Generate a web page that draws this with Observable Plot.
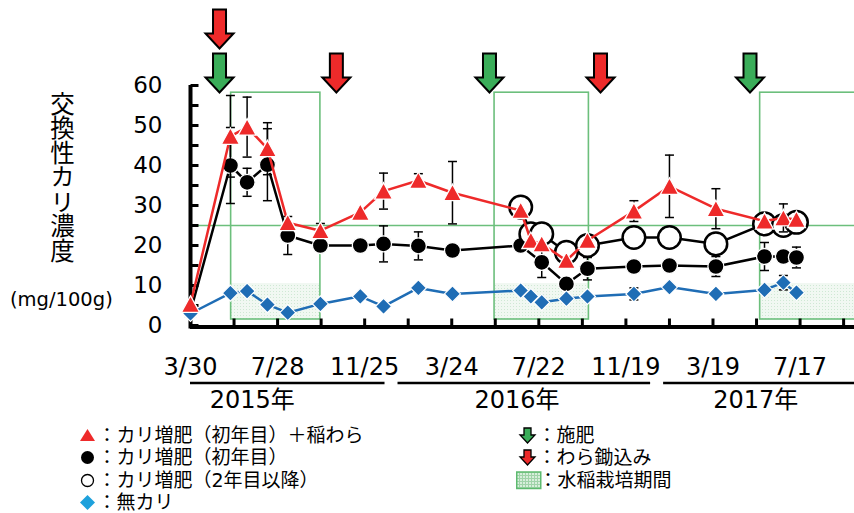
<!DOCTYPE html>
<html>
<head>
<meta charset="utf-8">
<script src="https://cdn.jsdelivr.net/npm/d3@7"></script>
<script src="https://cdn.jsdelivr.net/npm/@observablehq/plot@0.6"></script>
<style>
  body { margin: 0; background: #fff; }
  #wrap { position: relative; width: 854px; height: 513px; overflow: hidden;
          font-family: "DejaVu Sans", "Noto Sans CJK JP", sans-serif; color: #000; }
  #chart { position: absolute; left: 0; top: 0; }
  .ylab { position: absolute; left: 50px; top: 91px; writing-mode: vertical-rl; text-orientation: upright;
          font-family: "Noto Sans CJK JP", sans-serif; font-size: 24.5px; line-height: 25px; }
  .yunit { position: absolute; left: 10px; top: 288px; font-size: 19.5px; line-height: 24px; }
  .legend { position: absolute; font-family: "DejaVu Sans", "Noto Sans CJK JP", sans-serif; font-size: 19px; line-height: 22.5px; }
  .legend div { white-space: nowrap; height: 22.5px; display: flex; align-items: center; }
  .legend .ic { display: inline-block; width: 19.5px; height: 22.5px; position: relative; }
  .legend .ic svg { position: absolute; left: 0; top: 0; }
</style>
</head>
<body>
<div id="wrap">
  <div id="chart"></div>
  <div class="ylab">交換性カリ濃度</div>
  <div class="yunit">(mg/100g)</div>
  <div class="legend" style="left:78px; top:423.5px;">
    <div><span class="ic"><svg width="20" height="23"><path d="M9.5,5 L17,17 L2,17 Z" fill="#ee2a2a"/></svg></span>：カリ増肥（初年目）＋稲わら</div>
    <div><span class="ic"><svg width="20" height="23"><circle cx="9.5" cy="11.5" r="6.5" fill="#000"/></svg></span>：カリ増肥（初年目）</div>
    <div><span class="ic"><svg width="20" height="23"><circle cx="9.5" cy="11.5" r="6" fill="#fff" stroke="#000" stroke-width="1.3"/></svg></span>：カリ増肥（2年目以降）</div>
    <div><span class="ic"><svg width="20" height="23"><path d="M9.5,4 L17,11.5 L9.5,19 L2,11.5 Z" fill="#1ea1dc"/></svg></span>：無カリ</div>
  </div>
  <div class="legend" style="left:518px; top:423.5px;">
    <div><span class="ic"><svg width="22" height="23"><path d="M6,4 L13,4 L13,11 L17,11 L9.5,19 L2,11 L6,11 Z" fill="#3aad59" stroke="#000" stroke-width="1.3"/></svg></span>：施肥</div>
    <div><span class="ic"><svg width="22" height="23"><path d="M6,4 L13,4 L13,11 L17,11 L9.5,19 L2,11 L6,11 Z" fill="#ee2a2a" stroke="#000" stroke-width="1.3"/></svg></span>：わら鋤込み</div>
    <div><span class="ic" style="width:20.5px"><svg width="26" height="23" style="left:-2px">
      <defs><pattern id="lgGrid" width="3" height="3" patternUnits="userSpaceOnUse">
        <rect width="3" height="3" fill="#d6eedb"/><path d="M0,0.5 H3 M0.5,0 V3" stroke="#9fd3a9" stroke-width="1"/></pattern></defs>
      <rect x="0.75" y="3" width="24" height="16.5" fill="url(#lgGrid)" stroke="#5dba6f" stroke-width="1.5"/></svg></span>：水稲栽培期間</div>
  </div>
</div>
<script>
// ---------- data ----------
const sampleDates = ["2015-03-30","2015-05-24","2015-06-16","2015-07-14","2015-08-11","2015-09-25",
  "2015-11-19","2015-12-21","2016-02-07","2016-03-25","2016-06-27","2016-07-11","2016-07-26",
  "2016-08-29","2016-09-27","2016-11-30","2017-01-18","2017-03-23","2017-05-29","2017-06-24","2017-07-12"];
// カリ増肥（初年目）＋稲わら
const kStraw   = [5.3,47.3,49.6,44.2,25.7,23.7,28.3,33.6,36.25,33.2,28.75,21.25,20.4,16.25,21.25,28.6,34.8,29.2,26.1,26.9,26.5];
const kStrawSD = [0,10.2,7.5,6.5,0,1.8,0,4.5,1.7,7.8,0,0,0,0,0,2.6,7.8,5,0,3.5,0];
// カリ増肥（初年目）
const kFirst   = [3.5,40,35.8,40.2,22.5,20,20,20.4,19.9,18.75,20,null,15.8,10.4,14.2,14.75,15,14.75,17.25,17.25,17];
const kFirstSD = [0,9.5,3.5,9,4.75,0,0,4.5,3.5,0,0,null,3.8,0,2.8,0,0,2.5,3.5,0,2.6];
// カリ増肥（2年目以降）
const kLater   = [null,null,null,null,null,null,null,null,null,null,29.6,22.9,22.9,18.3,20,22,22,20.4,25.4,25,25.8];
// 無カリ
const noK      = [3,8.1,8.6,5.2,3.2,5.4,7.3,4.8,9.4,7.9,8.75,7.25,5.8,6.7,7.25,7.9,9.6,7.9,8.9,10.7,8.2];
const noKSD    = [0,0,0,0,0,0,0,0,0,0,0,0,0,0,0,1.5,0,0,0,1.8,0];

const fertilizerDates = ["2015-05-09","2016-05-15","2017-05-09"];   // 施肥
const strawDates      = ["2015-05-09","2015-10-17","2016-10-15"];   // わら鋤込み
const riceStart = ["2015-05-25","2016-05-22","2017-05-23"];           // 水稲栽培期間
const riceEnd   = ["2015-09-25","2016-09-29","2017-10-15"];
const referenceLevel = [25];

const axisStart = "2015-03-30", axisEnd = "2017-09-30";
const tickDates  = ["2015-03-30","2015-07-28","2015-11-25","2016-03-24","2016-07-22","2016-11-19","2017-03-19","2017-07-17"];
const tickLabels = ["3/30","7/28","11/25","3/24","7/22","11/19","3/19","7/17"];
const yTickLabels = [0,10,20,30,40,50,60];
const years = ["2015年","2016年","2017年"];
const yearLabelDates = ["2015-06-23","2016-06-22","2017-05-17"];
const yearSpanStart = ["2015-03-30","2016-01-01","2017-01-01"];
const yearSpanEnd   = ["2016-01-01","2017-01-01","2017-09-30"];

// ---------- build ----------
const parse = d3.utcParse("%Y-%m-%d");
const rows = (vals, errs) => sampleDates.map((d, i) => ({date: parse(d), v: vals[i], e: errs ? (errs[i] || 0) : 0}))
  .filter(r => r.v != null);
const redRows = rows(kStraw, kStrawSD), blackRows = rows(kFirst, kFirstSD),
      openRows = rows(kLater), blueRows = rows(noK, noKSD);
const rice = riceStart.map((s, i) => ({start: parse(s), end: parse(riceEnd[i])}));
const majorTicks = tickDates.map(parse);
const labelMap = new Map(majorTicks.map((d, i) => [+d, tickLabels[i]]));
const minorTicks = majorTicks.flatMap(d => [d, d3.utcDay.offset(d, 60)]).filter(d => d <= parse(axisEnd));
const yTicksAll = d3.range(0, 61, 5);

const RED = "#ee2a2a", BLUE = "#1f6db5", GREEN = "#3aad59", BOX = "#6cbf7c";

const hTick = {draw(c){ c.moveTo(0,0); c.lineTo(8,0); }};
const vTick = {draw(c){ c.moveTo(0,0); c.lineTo(0,-7); }};
const cap   = {draw(c){ c.moveTo(-4.5,0); c.lineTo(4.5,0); }};
const tri   = {draw(c){ c.moveTo(0,-8.5); c.lineTo(9,8); c.lineTo(-9,8); c.closePath(); }};
const dia   = {draw(c){ c.moveTo(0,-8); c.lineTo(8,0); c.lineTo(0,8); c.lineTo(-8,0); c.closePath(); }};
const arrow = {draw(c){ c.moveTo(-6.5,-39); c.lineTo(6.5,-39); c.lineTo(6.5,-15); c.lineTo(14,-15);
                        c.lineTo(0,0); c.lineTo(-14,-15); c.lineTo(-6.5,-15); c.closePath(); }};

const errMarks = (data) => {
  const d = data.filter(r => r.e > 0);
  return [
    Plot.ruleX(d, {x: "date", y1: r => r.v - r.e, y2: r => r.v + r.e, stroke: "#000", strokeWidth: 1.5}),
    Plot.dot(d.flatMap(r => [{date: r.date, y: r.v + r.e}, {date: r.date, y: r.v - r.e}]),
      {x: "date", y: "y", symbol: cap, fill: "none", stroke: "#000", strokeWidth: 1.5})
  ];
};

const strawRows = strawDates.map(s => ({date: parse(s), stacked: fertilizerDates.includes(s)}));

const chart = Plot.plot({
  width: 854, height: 415,
  marginLeft: 190, marginRight: 0, marginTop: 85, marginBottom: 90,
  x: {type: "utc", domain: [parse(axisStart), parse(axisEnd)]},
  y: {domain: [0, 60]},
  style: {fontFamily: "'DejaVu Sans','Noto Sans CJK JP',sans-serif", color: "#000", background: "#fff", overflow: "visible"},
  marks: [
    Plot.rect(rice, {x1: "start", x2: "end", y1: 1.5, y2: 10.5, fill: "url(#paddyFill)"}),
    Plot.rect(rice, {x1: "start", x2: "end", y1: 1.5, y2: 58.2, fill: "none", stroke: BOX, strokeWidth: 1.6}),
    Plot.ruleY(referenceLevel, {stroke: BOX, strokeWidth: 1.6}),
    // axes
    Plot.ruleX([parse(axisStart)], {stroke: "#000", strokeWidth: 4, insetBottom: -3.5}),
    Plot.ruleY([0], {stroke: "#000", strokeWidth: 4, dy: 1.5}),
    Plot.dot(yTicksAll, {y: d => d, frameAnchor: "left", symbol: hTick, fill: "none", stroke: "#000", strokeWidth: 3}),
    Plot.dot(minorTicks, {x: d => d, frameAnchor: "bottom", symbol: vTick, fill: "none", stroke: "#000", strokeWidth: 3}),
    Plot.axisY({ticks: yTickLabels, tickSize: 0, tickPadding: 28, fontSize: 23, label: null}),
    Plot.axisX({ticks: majorTicks, tickFormat: d => labelMap.get(+d), tickSize: 0, tickPadding: 32, fontSize: 24, label: null}),
    Plot.text(years, {x: (d, i) => parse(yearLabelDates[i]), text: d => d, frameAnchor: "bottom", lineAnchor: "middle",
      dy: 75, fontSize: 24, fontFamily: "'DejaVu Sans','Noto Sans CJK JP',sans-serif"}),
    // カリ増肥（初年目）
    Plot.line(blackRows, {x: "date", y: "v", stroke: "#000", strokeWidth: 2.5}),
    ...errMarks(blackRows),
    Plot.dot(blackRows, {x: "date", y: "v", r: 8, fill: "#000", stroke: "#fff", strokeWidth: 1.3}),
    // カリ増肥（2年目以降）
    Plot.line(openRows, {x: "date", y: "v", stroke: "#000", strokeWidth: 2.5}),
    Plot.dot(openRows, {x: "date", y: "v", r: 11.3, fill: "#fff", stroke: "#000", strokeWidth: 2.5}),
    // 無カリ
    Plot.line(blueRows, {x: "date", y: "v", stroke: BLUE, strokeWidth: 2.5}),
    ...errMarks(blueRows),
    Plot.dot(blueRows, {x: "date", y: "v", symbol: dia, fill: BLUE, stroke: "#fff", strokeWidth: 1.2}),
    // カリ増肥（初年目）＋稲わら
    Plot.line(redRows, {x: "date", y: "v", stroke: RED, strokeWidth: 2.5}),
    ...errMarks(redRows),
    Plot.dot(redRows, {x: "date", y: "v", symbol: tri, fill: RED, stroke: "#fff", strokeWidth: 1.3}),
    // arrows
    Plot.dot(fertilizerDates.map(parse), {x: d => d, frameAnchor: "top", dy: 7, symbol: arrow, fill: GREEN, stroke: "#000", strokeWidth: 2}),
    Plot.dot(strawRows.filter(d => !d.stacked), {x: "date", frameAnchor: "top", dy: 7, symbol: arrow, fill: RED, stroke: "#000", strokeWidth: 2}),
    Plot.dot(strawRows.filter(d => d.stacked), {x: "date", frameAnchor: "top", dy: -37, symbol: arrow, fill: RED, stroke: "#000", strokeWidth: 2})
  ]
});

// pattern for paddy fill
const svg = d3.select(chart);
const pat = svg.insert("defs", ":first-child").append("pattern")
  .attr("id", "paddyFill").attr("width", 3).attr("height", 3).attr("patternUnits", "userSpaceOnUse");
pat.append("rect").attr("width", 3).attr("height", 3).attr("fill", "#f1f8f2");
pat.append("rect").attr("width", 1).attr("height", 1).attr("fill", "#cfe8d4");

// year divider lines under the tick labels
const xs = chart.scale("x");
years.forEach((y, i) => {
  let a = xs.apply(parse(yearSpanStart[i])), b = xs.apply(parse(yearSpanEnd[i]));
  if (i > 0) a += 6.5;
  if (i < years.length - 1) b -= 6.5;
  svg.append("line").attr("x1", a).attr("x2", b).attr("y1", 383).attr("y2", 383)
    .attr("stroke", "#000").attr("stroke-width", 2.3);
});

document.getElementById("chart").appendChild(chart);
</script>
</body>
</html>
